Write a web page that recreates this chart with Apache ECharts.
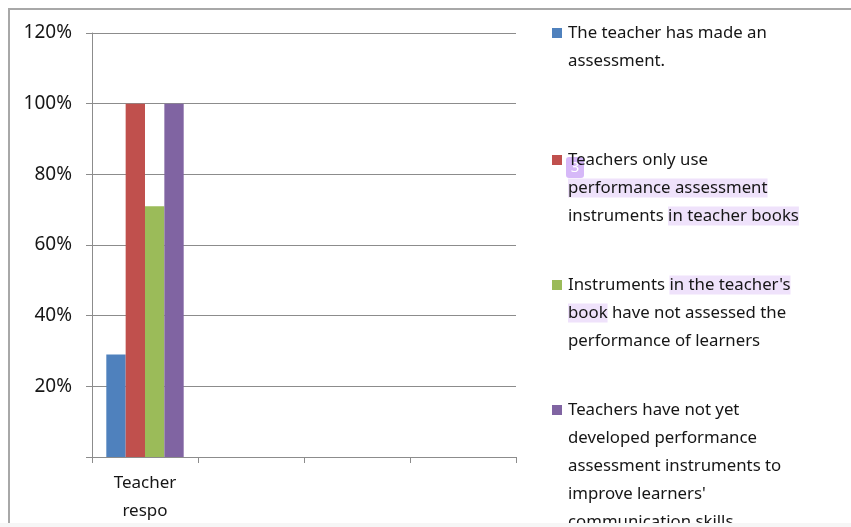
<!DOCTYPE html>
<html><head><meta charset="utf-8">
<script src="https://cdn.jsdelivr.net/npm/echarts@6/dist/echarts.min.js"></script>
<style>html,body{margin:0;padding:0;background:#fff}#c{width:851px;height:527px}</style>
</head><body><div id="c"></div>
<script>
// ---- data ----
const categories = ['Teacher respo', '', '', ''];
const seriesNames = [
  'The teacher has made an assessment.',
  'Teachers only use performance assessment instruments in teacher books',
  "Instruments in the teacher's book have not assessed the performance of learners",
  "Teachers have not yet developed performance assessment instruments to improve learners' communication skills"
];
const assessmentMade = [0.29];
const onlyTeacherBooks = [1.00];
const notAssessedPerformance = [0.71];
const notDevelopedInstruments = [1.00];
const yTickLabels = ['', '20%', '40%', '60%', '80%', '100%', '120%'];
const seriesColors = ['#4f81bd', '#c0504d', '#9bbb59', '#8064a2'];

// legend text lines: [text, highlighted]
const legendLines = [
  [[['The teacher has made an', false]], [['assessment.', false]]],
  [[['Teachers only use', false]], [['performance assessment', true]], [['instruments ', false], ['in teacher books', true]]],
  [[['Instruments ', false], ["in the teacher's", true]], [['book', true], [' have not assessed the', false]], [['performance of learners', false]]],
  [[['Teachers have not yet', false]], [['developed performance', false]], [['assessment instruments to', false]], [["improve learners'", false]], [['communication skills', false]]]
];

const FONT = 'Noto Sans';
const TXT = '#161616';
const LFS = 16.8;
const legendTops = [19, 146, 271, 396];

const seriesValues = [assessmentMade, onlyTeacherBooks, notAssessedPerformance, notDevelopedInstruments];

function legendText(lines) {
  return lines.map((line, li) =>
    (li === 0 ? '{sq| }{g| }' : '{ind| }') +
    line.map(([t, h]) => h ? '{hl|' + t + '}' : '{t|' + t + '}').join('')
  ).join('\n');
}

const legends = seriesNames.map((name, i) => ({
  data: [name],
  orient: 'vertical',
  left: 547,
  top: legendTops[i],
  padding: 0,
  icon: 'none',
  itemWidth: 0,
  itemHeight: 28,
  selectedMode: false,
  formatter: () => legendText(legendLines[i]),
  textStyle: {
    fontSize: LFS, fontFamily: FONT, color: TXT, lineHeight: 28,
    rich: {
      t: { fontSize: LFS, fontFamily: FONT, color: TXT, lineHeight: 28 },
      hl: { fontSize: LFS, fontFamily: FONT, color: TXT, lineHeight: 28, backgroundColor: '#efe2fb', padding: [1, 0] },
      sq: { width: 10, height: 10, backgroundColor: seriesColors[i], lineHeight: 28, fontSize: 10 },
      g: { width: 6, fontSize: LFS, lineHeight: 28 },
      ind: { width: 16, fontSize: LFS, lineHeight: 28 }
    }
  }
}));

const chart = echarts.init(document.getElementById('c'), null, { renderer: 'canvas' });
chart.setOption({
  animation: false,
  backgroundColor: '#ffffff',
  graphic: [
    { type: 'rect', shape: { x: 9, y: 9, width: 1000, height: 1000 }, style: { fill: 'none', stroke: '#a8a8a8', lineWidth: 2 }, silent: true, z: 0 },
    { type: 'rect', shape: { x: 566, y: 157, width: 18, height: 21, r: 3 }, style: { fill: 'rgba(200,160,245,0.75)' }, silent: true, z: 0 },
    { type: 'text', x: 575, y: 168, style: { text: '3', fill: '#ffffff', font: '15px "Noto Sans"', align: 'center', verticalAlign: 'middle' }, silent: true, z: 0 },
    { type: 'rect', shape: { x: 0, y: 523, width: 851, height: 4 }, style: { fill: '#f6f6f6' }, silent: true, z: 100 }
  ],
  legend: legends,
  grid: { left: 92, right: 335, top: 33, bottom: 70, containLabel: false },
  xAxis: {
    type: 'category',
    data: categories,
    axisLine: { lineStyle: { color: '#8c8c8c', width: 1 } },
    axisTick: { show: true, length: 6, lineStyle: { color: '#8c8c8c' } },
    axisLabel: {
      margin: 12, fontSize: 17, fontFamily: FONT, color: TXT, lineHeight: 28,
      formatter: v => v.replace(' ', '\n')
    }
  },
  yAxis: {
    type: 'value',
    min: 0, max: 1.2, interval: 0.2,
    axisLine: { show: true, lineStyle: { color: '#8c8c8c', width: 1 } },
    axisTick: { show: true, length: 6, lineStyle: { color: '#8c8c8c' } },
    splitLine: { show: true, lineStyle: { color: '#8c8c8c', width: 1 } },
    axisLabel: {
      margin: 20, fontSize: 19, fontFamily: FONT, color: TXT,
      formatter: v => yTickLabels[Math.round(v / 0.2)]
    }
  },
  series: seriesNames.map((name, i) => ({
    name,
    type: 'bar',
    data: seriesValues[i],
    barGap: '0%',
    barCategoryGap: '27%',
    itemStyle: { color: seriesColors[i] }
  }))
});
</script></body></html>
